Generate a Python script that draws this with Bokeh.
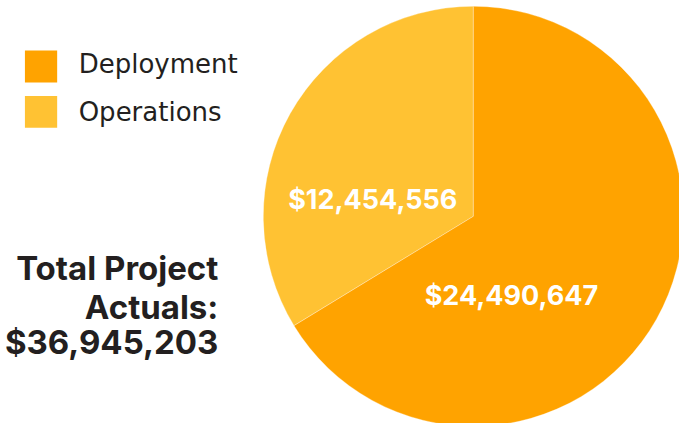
from bokeh.plotting import figure
from bokeh.models import Range1d, ColumnDataSource
from bokeh.embed import file_html
from bokeh.resources import INLINE
from bokeh.core.properties import value
import math

# ---- data ----
categories = ["Deployment", "Operations"]
amounts = [24490647, 12454556]
colors = ["#FFA300", "#FFC233"]
amount_labels = ["$24,490,647", "$12,454,556"]
total_lines = ["Total Project", "Actuals:", "$36,945,203"]

# ---- layout constants (reference pixel space: x right, y down) ----
W, H = 695, 439
M = 8
PW, PH = W - 2 * M, H - 2 * M
SY = PH / H
def Y(py, fs=0):
    # baseline compensation for the renderer's text placement
    return H - py + 0.42 * fs / SY

cx, cy, R = 484, 224, 215
label_pos = [(523, 318), (381, 218)]   # centre-x, baseline-y
legend_sq = [(25, 52), (25, 99)]
sq = 33
legend_text = [(80, 77), (80, 127)]
total_x = 223
total_baselines = [292, 332, 369]
FS_LABEL, FS_LEG, FS_TOT = 27, 26, 33

p = figure(width=PW, height=PH, output_backend="svg",
           toolbar_location=None, x_range=Range1d(0, W),
           y_range=Range1d(0, H), min_border=0)
p.axis.visible = False
p.grid.visible = False
p.outline_line_color = None
p.background_fill_color = "white"
p.border_fill_color = "white"

total = sum(amounts)
start = math.pi / 2
order = [1, 0]
starts, ends, cols = [], [], []
for i in order:
    a = 2 * math.pi * amounts[i] / total
    starts.append(start)
    ends.append(start + a)
    cols.append(colors[i])
    start += a
src = ColumnDataSource(dict(x=[cx] * 2, y=[Y(cy)] * 2, s=starts, e=ends, c=cols))
p.wedge(x="x", y="y", radius=R, start_angle="s", end_angle="e",
        fill_color="c", line_color="white", line_alpha=0.3, line_width=1, source=src)

p.text(x=[label_pos[i][0] for i in range(2)],
       y=[Y(label_pos[i][1], FS_LABEL) for i in range(2)],
       text=amount_labels, text_color="white", text_font=value("Inter"),
       text_font_style="bold", text_font_size=f"{FS_LABEL}px", text_align="center",
       text_baseline="alphabetic")

for i in range(2):
    x0, y0 = legend_sq[i]
    p.quad(left=x0, right=x0 + sq, top=Y(y0), bottom=Y(y0 + sq),
           fill_color=colors[i], line_color=None)
p.text(x=[t[0] for t in legend_text], y=[Y(t[1], FS_LEG) for t in legend_text],
       text=categories, text_color="#231F20", text_font=value("DejaVu Sans"),
       text_font_size=f"{FS_LEG}px", text_align="left", text_baseline="alphabetic")

p.text(x=[total_x] * 3, y=[Y(b, FS_TOT) for b in total_baselines], text=total_lines,
       text_color="#231F20", text_font=value("Inter"), text_font_style="bold",
       text_font_size=f"{FS_TOT}px", text_align="right", text_baseline="alphabetic")

open("out.html", "w").write(file_html(p, INLINE))
